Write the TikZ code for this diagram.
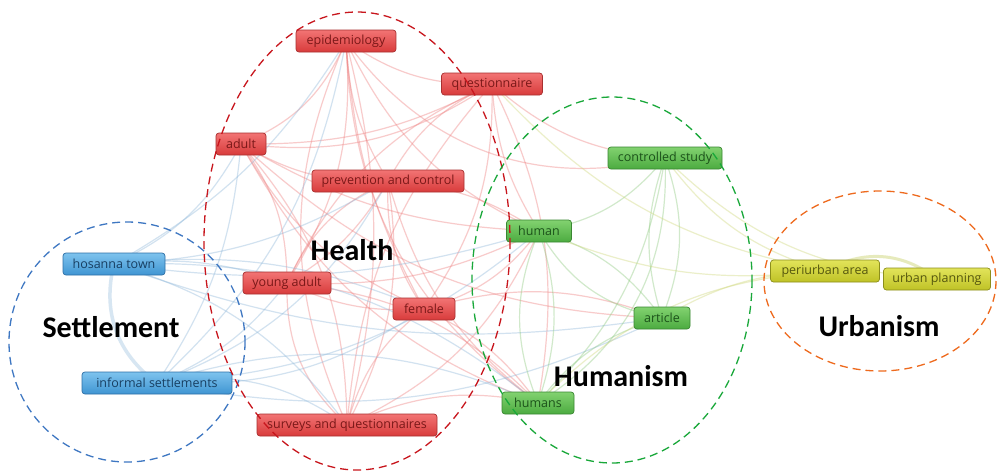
\documentclass[tikz,border=0pt]{standalone}
\usepackage{fontspec}
\setmainfont{Open Sans}
\newfontfamily\clusterfont{Carlito}
\pgfdeclarelayer{paper}
\pgfdeclarelayer{edges}
\pgfsetlayers{paper,edges,main}

\definecolor{redtop}{HTML}{F27474}
\definecolor{redbot}{HTML}{D83B3B}
\definecolor{redline}{HTML}{A83030}
\definecolor{redtext}{HTML}{7A1818}
\definecolor{bluetop}{HTML}{7EC3EE}
\definecolor{bluebot}{HTML}{3F95D2}
\definecolor{blueline}{HTML}{2E6FA6}
\definecolor{bluetext}{HTML}{183F62}
\definecolor{greentop}{HTML}{82D270}
\definecolor{greenbot}{HTML}{4CAB40}
\definecolor{greenline}{HTML}{3A8732}
\definecolor{greentext}{HTML}{1C521A}
\definecolor{yeltop}{HTML}{E2E45A}
\definecolor{yelbot}{HTML}{BFC226}
\definecolor{yelline}{HTML}{8C8E1C}
\definecolor{yeltext}{HTML}{55570E}
\definecolor{redlinkc}{HTML}{EE7F7F}
\definecolor{bluelinkc}{HTML}{8FB8DA}
\definecolor{greenlinkc}{HTML}{8CC97E}
\definecolor{yellinkc}{HTML}{CFD77A}
\definecolor{ringred}{HTML}{C8161D}
\definecolor{ringblue}{HTML}{3E77C2}
\definecolor{ringgreen}{HTML}{19A83A}
\definecolor{ringorange}{HTML}{EE6A1E}

\tikzset{
  kw/.style={rounded corners=3pt, line width=0.7pt, inner sep=0pt,
    minimum height=22pt, font=\fontsize{12.5}{14}\selectfont},
  redkw/.style={kw, draw=redline, top color=redtop, bottom color=redbot, text=redtext},
  bluekw/.style={kw, draw=blueline, top color=bluetop, bottom color=bluebot, text=bluetext},
  greenkw/.style={kw, draw=greenline, top color=greentop, bottom color=greenbot, text=greentext},
  yelkw/.style={kw, draw=yelline, top color=yeltop, bottom color=yelbot, text=yeltext},
  link/.style={line width=1.2pt, draw opacity=0.4},
  redlink/.style={link, draw=redlinkc},
  bluelink/.style={link, draw=bluelinkc},
  greenlink/.style={link, draw=greenlinkc},
  yellink/.style={link, draw=yellinkc},
  ring/.style={line width=1.3pt, dash pattern=on 8pt off 5pt},
  cluster/.style={font=\clusterfont\bfseries\fontsize{30}{32}\selectfont, text=black}
}

\begin{document}
\begin{tikzpicture}[x=1pt, y=-1pt]
\begin{pgfonlayer}{paper}
\fill[white] (0,0) rectangle (997,472);
\end{pgfonlayer}
\useasboundingbox (0,0) rectangle (997,472);

% keyword boxes
\node[redkw, minimum width=100pt] (epi)   at (346,41)  {epidemiology};
\node[redkw, minimum width=101pt] (quest) at (492,84)  {questionnaire};
\node[redkw, minimum width=50pt]  (adult) at (241,144) {adult};
\node[redkw, minimum width=152pt] (prev)  at (388,181) {prevention and control};
\node[redkw, minimum width=88pt]  (young) at (287,283) {young adult};
\node[redkw, minimum width=62pt]  (fem)   at (424,309) {female};
\node[redkw, minimum width=180pt] (surv)  at (347,425) {surveys and questionnaires};
\node[bluekw, minimum width=102pt] (hos)  at (114,264) {hosanna town};
\node[bluekw, minimum width=150pt] (inf)  at (157,383) {informal settlements};
\node[greenkw, minimum width=65pt]  (hum)  at (539,231) {human};
\node[greenkw, minimum width=114pt] (ctrl) at (665,158) {controlled study};
\node[greenkw, minimum width=56pt]  (art)  at (662,318) {article};
\node[greenkw, minimum width=72pt]  (hums) at (538,403) {humans};
\node[yelkw, minimum width=109pt] (peri)  at (825,271) {periurban area};
\node[yelkw, minimum width=107pt] (plan)  at (937,279) {urban planning};

% co-occurrence links, behind the boxes
\begin{pgfonlayer}{edges}
\foreach \a/\b/\c in {
  epi/quest/-18, epi/adult/22, epi/prev/-14, epi/young/18, epi/fem/-12,
  epi/surv/14, epi/surv/-24, quest/adult/20, quest/prev/-18, quest/young/-20,
  quest/fem/18, quest/surv/-18, adult/prev/-16, adult/young/18, adult/fem/-18,
  adult/surv/20, prev/young/14, prev/fem/-18, prev/surv/18, young/fem/-14,
  young/surv/-24, fem/surv/-18, epi/hum/-20, epi/hums/-26, quest/hum/-14,
  quest/hums/18, adult/hum/-14, adult/hums/-20, prev/hum/14, prev/hums/-18,
  fem/hum/-18, fem/hums/14, fem/art/18, surv/hums/18, surv/hum/-20,
  young/hums/20, young/hum/-14, quest/ctrl/-18, adult/art/-20, epi/ctrl/-34,
  adult/quest/-14, young/prev/20}
  \draw[redlink] (\a.center) to[bend left=\c] (\b.center);
\draw[bluelink, line width=3.5pt, draw opacity=0.35] (hos.center) to[bend right=34] (inf.center);
\foreach \a/\b/\c in {
  hos/adult/-18, hos/prev/-14, hos/fem/14, hos/hum/-12, hos/young/12,
  hos/surv/18, hos/hums/20, hos/art/-14, inf/prev/-20, inf/fem/-18,
  inf/hum/-18, inf/hums/20, inf/epi/-18, inf/surv/22, inf/adult/-14,
  inf/young/-14, inf/art/-18, hos/epi/-14}
  \draw[bluelink] (\a.center) to[bend left=\c] (\b.center);
\foreach \a/\b/\c in {
  hum/ctrl/-20, hum/art/18, hum/hums/-22, hum/hums/18, ctrl/art/-18,
  ctrl/art/20, ctrl/hums/18, art/hums/-18, hums/ctrl/-30, hum/art/-24}
  \draw[greenlink] (\a.center) to[bend left=\c] (\b.center);
\draw[yellink, line width=3pt, draw opacity=0.5] (peri.center) to[bend left=34] (plan.center);
\foreach \a/\b/\c in {
  peri/ctrl/18, peri/hums/-20, peri/hum/14, peri/art/-14, peri/quest/18,
  plan/ctrl/20}
  \draw[yellink] (\a.center) to[bend left=\c] (\b.center);
\end{pgfonlayer}

% cluster rings and their names
\draw[ring, draw=ringblue]   (127,342) ellipse [x radius=118, y radius=120];
\draw[ring, draw=ringred]    (357,241) ellipse [x radius=153, y radius=229];
\draw[ring, draw=ringgreen]  (612,280) ellipse [x radius=140, y radius=183];
\draw[ring, draw=ringorange] (880,281) ellipse [x radius=116, y radius=90];

\node[cluster] (tsett) at (111,327) {Settlement};
\node[cluster] (theal) at (352,250) {Health};
\node[cluster] (thum)  at (621,376) {Humanism};
\node[cluster] (turb)  at (879,326) {Urbanism};
\end{tikzpicture}
\end{document}
